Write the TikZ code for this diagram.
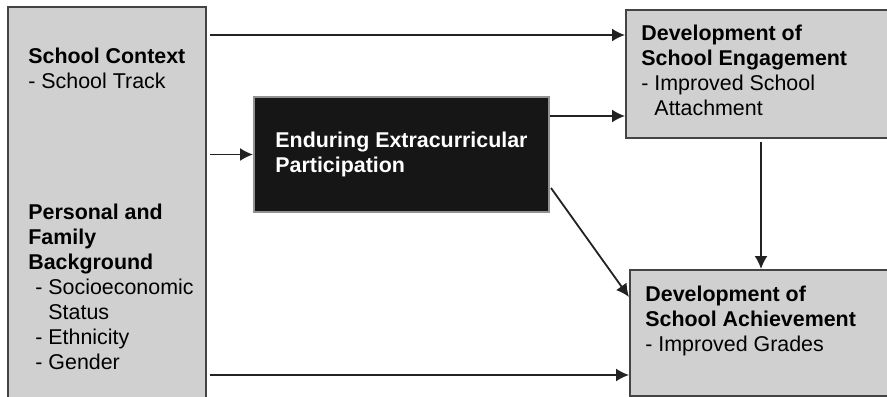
\documentclass[tikz,border=0pt]{standalone}
\usepackage{fontspec}
\setmainfont{Liberation Sans}
\usetikzlibrary{arrows.meta,positioning,calc}

\definecolor{boxgray}{RGB}{208,208,208}
\definecolor{edgegray}{RGB}{68,68,68}
\definecolor{blkfill}{RGB}{22,22,22}
\definecolor{linegray}{RGB}{34,34,34}

\tikzset{
  box/.style={draw=edgegray, line width=1pt, fill=boxgray, anchor=north west, inner sep=0pt},
  blkbox/.style={box, draw=boxgray!70!black, fill=blkfill},
  txt/.style={anchor=north west, inner sep=0pt, align=left, font=\fontsize{10.7}{12.5}\selectfont},
  arr/.style={draw=linegray, line width=0.9pt, -{Latex[length=6.5pt,width=6.5pt]}}
}

\begin{document}
\begin{tikzpicture}[x=0.5pt, y=-0.5pt]
\useasboundingbox (0,0) rectangle (887,396);
\clip (0,0) rectangle (887,396);

\def \ytop {35};
\def \ymid {116};
\def \ybot {375};

\coordinate (rowtop) at (0,\ytop);
\coordinate (rowmid) at (0,\ymid);
\coordinate (rowbot) at (0,\ybot);

% boxes
\node [box, minimum width=99pt, minimum height=200pt] (ctx) at (7,6) {};
\node [blkbox, minimum width=147.5pt, minimum height=57.5pt] (blk) at (253,96) {};
\node [box, minimum width=135pt, minimum height=64pt] (eng) at (625,9) {};
\node [box, minimum width=133pt, minimum height=63pt] (ach) at (629,269) {};

% texts
\node [txt] (ctxtxt) at (28,48) {\textbf{School Context}\\- School Track};
\node [txt] (bgtxt) at (28,204) {\textbf{Personal and}\\\textbf{Family}\\\textbf{Background}\\
  \hspace{3.5pt}- Socioeconomic\\\hspace{3.5pt}\phantom{- }Status\\\hspace{3.5pt}- Ethnicity\\\hspace{3.5pt}- Gender};
\node [txt, text=white] (blktxt) at (275,132) {\textbf{Enduring Extracurricular}\\\textbf{Participation}};
\node [txt] (engtxt) at (641,25) {\textbf{Development of}\\\textbf{School Engagement}\\- Improved School\\\phantom{- }Attachment};
\node [txt] (achtxt) at (645,286) {\textbf{Development of}\\\textbf{School Achievement}\\- Improved Grades};

% arrows
\draw [arr, shorten <=1.5pt] (ctx.east |- rowtop) -- (eng.west |- rowtop);
\draw [arr, shorten <=1.5pt] (ctx.east |- blk.west) -- (blk.west);
\draw [arr] (blk.east |- rowmid) -- (eng.west |- rowmid);
\draw [arr, shorten <=1.5pt] (eng.south) -- (eng.south |- ach.north);
\draw [arr] ($(blk.south east)+(1,-25)$) -- ($(ach.north west)+(0,28)$);
\draw [arr, shorten <=1.5pt] (ctx.east |- rowbot) -- (ach.west |- rowbot);

\end{tikzpicture}
\end{document}
